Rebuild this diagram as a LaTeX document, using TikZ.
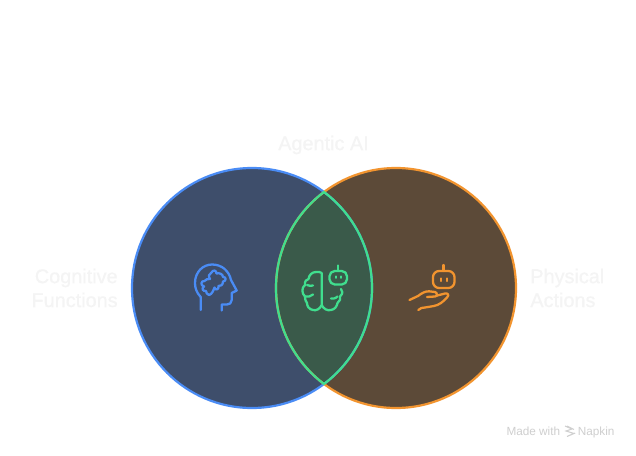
\documentclass[tikz,border=0pt]{standalone}
\usepackage{fontspec}
\setmainfont{Liberation Sans}
\newfontfamily\labelfont[FakeBold=0.25]{Liberation Sans}
\definecolor{bluefill}{HTML}{3E4E6B}
\definecolor{blueline}{HTML}{4A8CF5}
\definecolor{orangefill}{HTML}{5C4A38}
\definecolor{orangeline}{HTML}{F2942F}
\definecolor{greenfill}{HTML}{3A5A4A}
\definecolor{greenline}{HTML}{40DE8E}
\definecolor{labelgray}{HTML}{F4F4F4}
\definecolor{markgray}{HTML}{CFCFCF}
\tikzset{
	biglabel/.style={text=labelgray,font=\labelfont\fontsize{11.3pt}{13.6pt}\selectfont,inner sep=0pt},
	marklabel/.style={text=markgray,font=\fontsize{6.7pt}{7pt}\selectfont,inner sep=0pt},
	iconline/.style={line width=1.3pt,line cap=round,line join=round},
}
\begin{document}
\begin{tikzpicture}[x=0.02cm,y=-0.02cm]
	\useasboundingbox (0,0) rectangle (636,456);
	\fill[white] (0,0) rectangle (636,456);
	% circles
	\fill[bluefill] (252,288) circle (120);
	\fill[orangefill] (396,288) circle (120);
	\begin{scope}
		\clip (252,288) circle (120);
		\fill[greenfill] (396,288) circle (120);
	\end{scope}
	\draw[blueline,line width=1.25pt] (252,288) circle (120);
	\draw[orangeline,line width=1.25pt] (396,288) circle (120);
	\begin{scope}
		\clip (252,288) circle (120.6);
		\draw[greenline,line width=1.25pt] (396,288) circle (120);
	\end{scope}
	\begin{scope}
		\clip (396,288) circle (120.6);
		\draw[greenline,line width=1.25pt] (252,288) circle (120);
	\end{scope}
	% labels
	\node[biglabel] (agentic) at (323.5,145) {Agentic AI};
	\node[biglabel,anchor=east,align=right] (cognitive) at (118,288) {Cognitive\\Functions};
	\node[biglabel,anchor=west,align=left] (physical) at (530,288) {Physical\\Actions};
	% head
	\draw[blueline,iconline] (200.7,310)--(200.7,297)
		.. controls (196.5,292.5) and (195,288) .. (195,283)
		.. controls (195,272) and (203,264.5) .. (212,264.5)
		.. controls (222,264.5) and (229,271) .. (231,280)
		--(236.7,290.5)--(231.7,293)--(231.7,300)
		.. controls (231.7,303) and (229.5,304.5) .. (227,304.5)
		--(221.7,304.5)--(221.7,310.5);
	% puzzle
	\draw[blueline,iconline] (211.5,272.5)
		.. controls (213,269.5) and (216.5,270) .. (216.5,273.5)
		.. controls (219,272.5) and (223,274) .. (223,277)
		.. controls (226.5,276.5) and (226.5,281.5) .. (223,281.5)
		.. controls (223,285) and (220.5,286.5) .. (218.5,286)
		.. controls (219.5,290) and (214.5,290.5) .. (214.5,287.5)
		.. controls (213.5,290) and (212,294.5) .. (209,295)
		.. controls (207,294.5) and (206,292.5) .. (206,291)
		.. controls (203,291.5) and (201,288.5) .. (204,286.5)
		.. controls (200,285.5) and (201,280.5) .. (204.5,281)
		.. controls (205.5,279.5) and (208,278.5) .. (210,279)
		.. controls (208,276.5) and (209,273.5) .. (211.5,272.5) -- cycle;
	% brain
	\draw[greenline,iconline] (321.7,273)--(321.7,305)
		.. controls (320,309) and (316,311) .. (313,310)
		.. controls (309,309.5) and (307,306) .. (307,303)
		.. controls (305,300) and (305,298) .. (305,296.5)
		.. controls (301.5,293.5) and (301.5,287.5) .. (305,285)
		.. controls (304.5,281) and (306.5,279.5) .. (308.5,279)
		.. controls (309,275) and (312,272) .. (316,272)
		.. controls (318,271.5) and (320.5,272) .. (321.7,273);
	\draw[greenline,iconline] (321.7,305)
		.. controls (323.5,309) and (327.5,311) .. (331,310)
		.. controls (335,309.5) and (337,306) .. (337.5,303)
		.. controls (340,301) and (341,298.5) .. (340,296.5)
		.. controls (343,293.5) and (343,291) .. (341,289);
	\draw[greenline,iconline] (307,285)..controls (309,286) and (311,286) .. (313,285.5);
	\draw[greenline,iconline] (305,296.5)..controls (308,297) and (311,296.5) .. (313,294.5);
	\draw[greenline,iconline] (331,298.5)..controls (333,298.5) and (335,299) .. (337.5,296.5);
	% robot on the brain
	\draw[greenline,iconline,rounded corners=3pt] (329.5,271) rectangle (347,284.5);
	\draw[greenline,iconline] (338.3,271)--(338.3,265.5);
	\draw[greenline,iconline] (335.7,276.5)--(335.7,277.8) (341,276.5)--(341,277.8);
	% robot on the hand
	\draw[orangeline,iconline,rounded corners=3.5pt] (433,271) rectangle (454.5,288);
	\draw[orangeline,iconline] (443.5,271)--(443.5,265);
	\draw[orangeline,iconline] (440.7,278.5)--(440.7,281) (447,278.5)--(447,281);
	% hand
	\draw[orangeline,iconline] (409.5,300)--(418,296)
		.. controls (422,293) and (425,291.3) .. (429,291.3)
		--(435,292) .. controls (437.5,292.5) and (437.5,296.5) .. (435,296.5)
		--(427,297);
	\draw[orangeline,iconline] (436.5,295.7)--(445,293.5)
		.. controls (448,293) and (449.5,295) .. (447,297.5)
		.. controls (443,302) and (439,305) .. (434,306)
		--(425,307.5) .. controls (422.5,307.5) and (420,308) .. (418.3,310);
	% mark
	\node[marklabel,anchor=base east] (madewith) at (560.5,435) {Made with};
	\node[marklabel,anchor=base west] (napkin) at (577.5,435) {Napkin};
	\draw[markgray,line width=0.6pt] (565,426)--(572,429)--(566,431)--(574,433.5)--(567,436.5)
		(567,426)--(574,429.5) (568,436)--(575,433);
\end{tikzpicture}
\end{document}
